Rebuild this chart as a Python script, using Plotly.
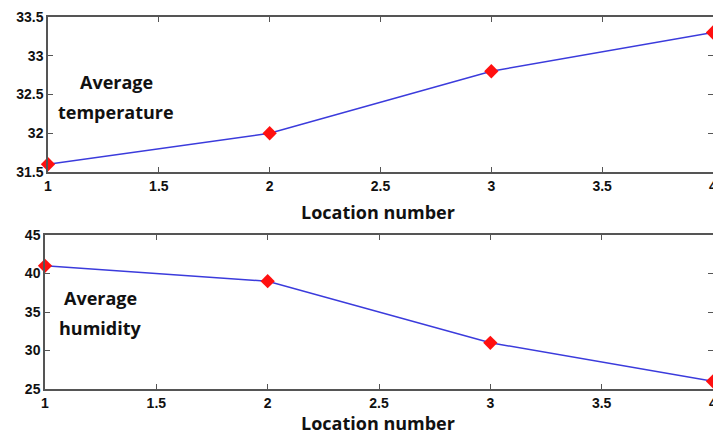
import plotly.graph_objects as go

locations = [1, 2, 3, 4]
avg_temperature = [31.6, 32.0, 32.8, 33.3]
avg_humidity = [41, 39, 31, 26]
x_ticks = [1, 1.5, 2, 2.5, 3, 3.5, 4]
temp_ticks = [31.5, 32, 32.5, 33, 33.5]
hum_ticks = [25, 30, 35, 40, 45]

W, H = 713, 435
fig = go.Figure()

line = dict(color="#3b3bdc", width=1.5)
marker = dict(symbol="diamond", color="#ff1010", size=11, line=dict(width=0))

fig.add_trace(go.Scatter(x=locations, y=avg_temperature, mode="lines+markers",
                         line=line, marker=marker, xaxis="x", yaxis="y", cliponaxis=False))
fig.add_trace(go.Scatter(x=locations, y=avg_humidity, mode="lines+markers",
                         line=line, marker=marker, xaxis="x2", yaxis="y2", cliponaxis=False))

tickfont = dict(family="Liberation Sans", size=14, color="#111111")
common = dict(showgrid=False, zeroline=False, showline=True, linecolor="#555555",
              linewidth=1.5, mirror="ticks", ticks="inside", ticklen=5,
              tickcolor="#555555", tickfont=tickfont, ticklabeloverflow="allow",
              automargin=False)


def bold(vals):
    return ["<b>%g</b>" % v for v in vals]


fig.update_layout(
    width=W, height=H, margin=dict(l=0, r=0, t=0, b=0),
    paper_bgcolor="white", plot_bgcolor="white", showlegend=False,
    xaxis=dict(domain=[48 / W, 1], range=[1, 4], tickvals=x_ticks, ticktext=bold(x_ticks),
               anchor="y", **common),
    yaxis=dict(domain=[1 - 172 / H, 1 - 17 / H], range=[31.5, 33.5],
               tickvals=temp_ticks, ticktext=bold(temp_ticks), anchor="x", **common),
    xaxis2=dict(domain=[45 / W, 1], range=[1, 4], tickvals=x_ticks, ticktext=bold(x_ticks),
                anchor="y2", **common),
    yaxis2=dict(domain=[1 - 389 / H, 1 - 235 / H], range=[25, 45],
                tickvals=hum_ticks, ticktext=bold(hum_ticks), anchor="x2", **common),
)

labfont = dict(family="Open Sans", size=18, color="#111111")
annots = [
    (378 / W, 1 - 212 / H, "<b>Location number</b>"),
    (378 / W, 1 - 423 / H, "<b>Location number</b>"),
    (116 / W, 1 - 82 / H, "<b>Average</b>"),
    (116 / W, 1 - 112 / H, "<b>temperature</b>"),
    (100 / W, 1 - 298 / H, "<b>Average</b>"),
    (100 / W, 1 - 328 / H, "<b>humidity</b>"),
]
for x, y, t in annots:
    fig.add_annotation(x=x, y=y, xref="paper", yref="paper", text=t, showarrow=False,
                       font=labfont, xanchor="center", yanchor="middle")

fig.write_html("out.html")
